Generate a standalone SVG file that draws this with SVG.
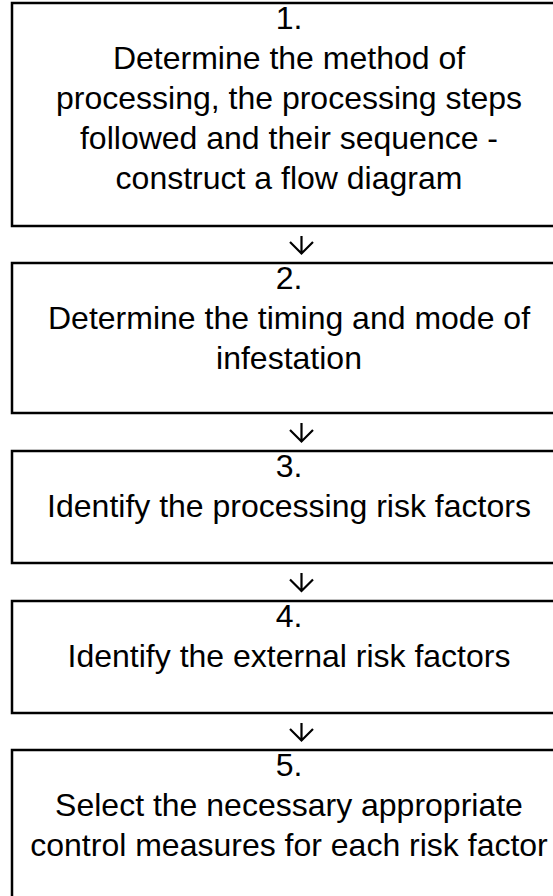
<svg xmlns="http://www.w3.org/2000/svg" width="553" height="896" viewBox="0 0 553 896">
<style>
.box{fill:#fff;stroke:#000;stroke-width:2.5}
.t{font-family:"Liberation Sans",Arial,sans-serif;font-size:32px;fill:#000;text-anchor:middle}
.arr{fill:none;stroke:#000;stroke-width:2.2}
</style>
<rect width="553" height="896" fill="#fff"/>
<g id="node1">
<rect class="box" x="12" y="3" width="560" height="223"/>
<text class="t" x="289" y="29">1.</text>
<text class="t" x="289" y="69">Determine the method of</text>
<text class="t" x="289" y="109">processing, the processing steps</text>
<text class="t" x="289" y="149">followed and their sequence -</text>
<text class="t" x="289" y="189">construct a flow diagram</text>
</g>
<g id="node2">
<rect class="box" x="12" y="263" width="560" height="150"/>
<text class="t" x="289" y="289">2.</text>
<text class="t" x="289" y="329">Determine the timing and mode of</text>
<text class="t" x="289" y="369">infestation</text>
</g>
<g id="node3">
<rect class="box" x="12" y="451" width="560" height="112"/>
<text class="t" x="289" y="477">3.</text>
<text class="t" x="289" y="517">Identify the processing risk factors</text>
</g>
<g id="node4">
<rect class="box" x="12" y="601" width="560" height="112"/>
<text class="t" x="289" y="627">4.</text>
<text class="t" x="289" y="667">Identify the external risk factors</text>
</g>
<g id="node5">
<rect class="box" x="12" y="750" width="560" height="170"/>
<text class="t" x="289" y="776">5.</text>
<text class="t" x="289" y="816">Select the necessary appropriate</text>
<text class="t" x="289" y="856">control measures for each risk factor</text>
</g>
<g id="connectors">
<path class="arr" d="M301.5 236V253.5M290 242L301.5 253.5L313 242"/>
<path class="arr" d="M301.5 423V441.5M290 430L301.5 441.5L313 430"/>
<path class="arr" d="M301.5 573V591M290 579.5L301.5 591L313 579.5"/>
<path class="arr" d="M301.5 723V740.5M290 729L301.5 740.5L313 729"/>
</g>
</svg>
